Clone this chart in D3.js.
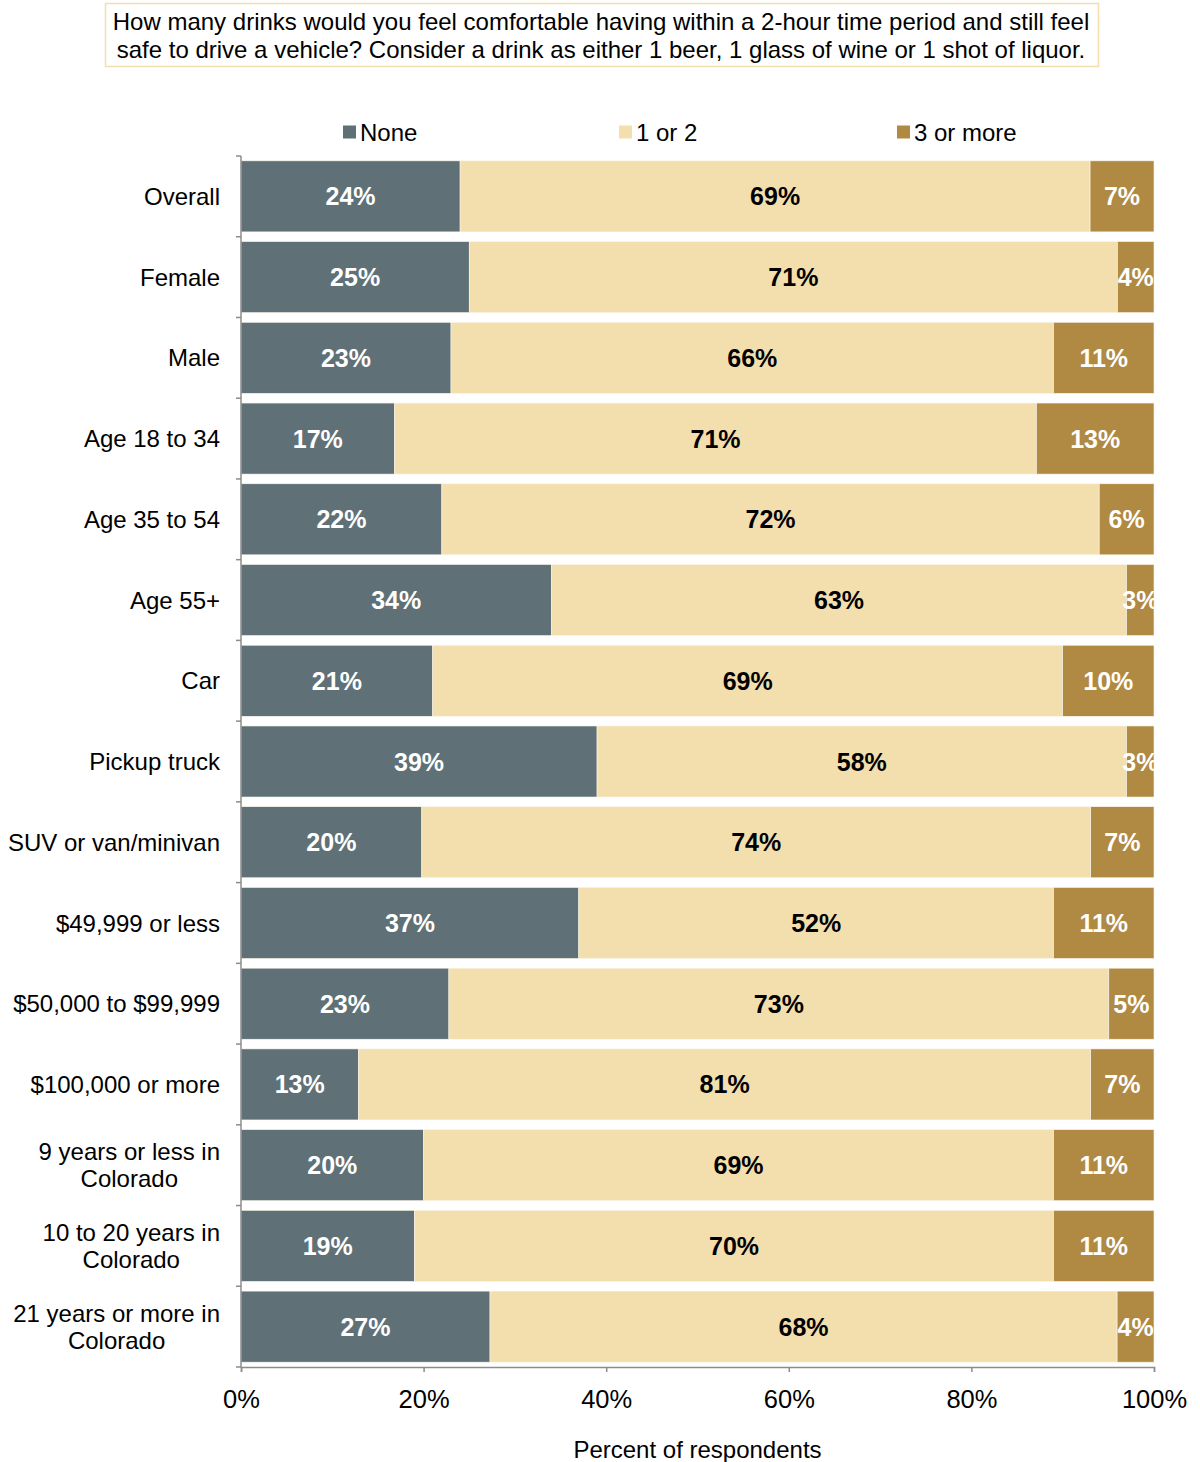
<!DOCTYPE html>
<html>
<head>
<meta charset="utf-8">
<script src="https://cdn.jsdelivr.net/npm/d3@7"></script>
<style>
  html, body { margin: 0; padding: 0; background: #fff; }
  svg { display: block; font-family: "Liberation Sans", Arial, sans-serif; }
</style>
</head>
<body>
<svg id="chart" width="1200" height="1462"></svg>
<script>
// Survey groups (each label may wrap onto two lines)
const categories = [
  ["Overall"],
  ["Female"],
  ["Male"],
  ["Age 18 to 34"],
  ["Age 35 to 54"],
  ["Age 55+"],
  ["Car"],
  ["Pickup truck"],
  ["SUV or van/minivan"],
  ["$49,999 or less"],
  ["$50,000 to $99,999"],
  ["$100,000 or more"],
  ["9 years or less in", "Colorado"],
  ["10 to 20 years in", "Colorado"],
  ["21 years or more in", "Colorado"]
];

const seriesNames = ["None", "1 or 2", "3 or more"];

// Percent of respondents per answer, one value per group
const noneValues  = [24, 25, 23, 17, 22, 34, 21, 39, 20, 37, 23, 13, 20, 19, 27];
const oneTwoValues = [69, 71, 66, 71, 72, 63, 69, 58, 74, 52, 73, 81, 69, 70, 68];
const threeValues = [7, 4, 11, 13, 6, 3, 10, 3, 7, 11, 5, 7, 11, 11, 4];

const tickValues = [0, 0.2, 0.4, 0.6, 0.8, 1.0];

const questionLines = [
  "How many drinks would you feel comfortable having within a 2-hour time period and still feel",
  "safe to drive a vehicle? Consider a drink as either 1 beer, 1 glass of wine or 1 shot of liquor."
];

const colors = { "None": "#5f7177", "1 or 2": "#f3deae", "3 or more": "#b08942" };
const labelColors = { "None": "#ffffff", "1 or 2": "#000000", "3 or more": "#ffffff" };

const rows = categories.map((c, i) => ({
  key: c.join(" "),
  lines: c,
  "None": noneValues[i],
  "1 or 2": oneTwoValues[i],
  "3 or more": threeValues[i]
}));

const svg = d3.select("#chart");
const margin = { left: 241, right: 46, top: 156, bottom: 95 };
const W = 1200, H = 1462;

const x = d3.scaleLinear().domain([0, 1]).range([margin.left, W - margin.right]);
const y = d3.scaleBand()
  .domain(rows.map(r => r.key))
  .range([margin.top, H - margin.bottom])
  .paddingInner(0.12)
  .paddingOuter(0.06);

// Each bar is stacked to fill the full 100% width
const stack = d3.stack().keys(seriesNames).offset(d3.stackOffsetExpand);
const stacked = stack(rows);

// Question box
const title = svg.append("g");
title.append("rect")
  .attr("x", 105.5).attr("y", 3.5).attr("width", 993).attr("height", 63)
  .attr("fill", "#fff").attr("stroke", "#f3deae").attr("stroke-width", 1.5);
title.selectAll("text").data(questionLines).join("text")
  .attr("x", 601).attr("y", (d, i) => 30 + i * 28)
  .attr("text-anchor", "middle")
  .attr("font-size", 24).attr("fill", "#000")
  .text(d => d);

// Legend
const legendX = [343, 619, 897];
const legend = svg.append("g").selectAll("g").data(seriesNames).join("g")
  .attr("transform", (d, i) => `translate(${legendX[i]},132)`);
legend.append("rect").attr("x", 0).attr("y", -6.5).attr("width", 13).attr("height", 13)
  .attr("fill", d => colors[d]);
legend.append("text").attr("x", 17).attr("y", 8.5)
  .attr("font-size", 24).attr("fill", "#000").text(d => d);

// Clip labels at the plot's right edge
svg.append("defs").append("clipPath").attr("id", "plotClip")
  .append("rect").attr("x", margin.left).attr("y", margin.top)
  .attr("width", x(1) - margin.left).attr("height", H - margin.bottom - margin.top);

const plot = svg.append("g");
const layers = plot.selectAll("g.layer").data(stacked).join("g")
  .attr("class", "layer").attr("fill", d => colors[d.key]);

layers.selectAll("rect").data(d => d).join("rect")
  .attr("x", d => x(d[0]))
  .attr("y", d => y(d.data.key))
  .attr("width", d => x(d[1]) - x(d[0]))
  .attr("height", y.bandwidth())
  .attr("stroke", "#fbf6ea").attr("stroke-width", 0.6);

const labels = svg.append("g").attr("clip-path", "url(#plotClip)");
stacked.forEach(layer => {
  labels.selectAll(null).data(layer).join("text")
    .attr("x", d => (x(d[0]) + x(d[1])) / 2)
    .attr("y", d => y(d.data.key) + y.bandwidth() / 2)
    .attr("dy", "0.36em")
    .attr("text-anchor", "middle")
    .attr("font-size", 25).attr("font-weight", "bold")
    .attr("fill", labelColors[layer.key])
    .text(d => d.data[layer.key] + "%");
});

// Y axis: line plus ticks at band boundaries
const axisColor = "#8c8c8c";
const yAxis = svg.append("g");
yAxis.append("line")
  .attr("x1", margin.left).attr("x2", margin.left)
  .attr("y1", margin.top).attr("y2", H - margin.bottom)
  .attr("stroke", axisColor).attr("stroke-width", 1.5);
const bounds = rows.map(r => y(r.key) - y.step() * y.paddingInner() / 2);
bounds.push(H - margin.bottom);
bounds[0] = margin.top;
yAxis.selectAll("line.tick").data(bounds).join("line").attr("class", "tick")
  .attr("x1", margin.left - 5).attr("x2", margin.left)
  .attr("y1", d => d).attr("y2", d => d)
  .attr("stroke", axisColor).attr("stroke-width", 1.5);

// Category labels, right aligned, multi-line blocks centered on themselves
const catG = svg.append("g");
rows.forEach(r => {
  const cy = y(r.key) + y.bandwidth() / 2;
  const t = catG.append("text").attr("font-size", 24).attr("fill", "#000");
  const n = r.lines.length;
  r.lines.forEach((ln, i) => {
    t.append("tspan").text(ln)
      .attr("y", cy + (i - (n - 1) / 2) * 27)
      .attr("dy", "0.36em");
  });
  const spans = t.selectAll("tspan").nodes();
  const maxW = d3.max(spans, s => s.getComputedTextLength());
  const centerX = 220 - maxW / 2;
  t.selectAll("tspan").attr("x", centerX).attr("text-anchor", "middle");
});

// X axis
const xAxis = svg.append("g")
  .attr("transform", `translate(0,${H - margin.bottom})`)
  .call(d3.axisBottom(x).tickValues(tickValues).tickFormat(d3.format(".0%")).tickSize(5).tickPadding(18));
xAxis.select(".domain").attr("stroke", axisColor).attr("stroke-width", 1.5);
xAxis.selectAll(".tick line").attr("stroke", axisColor).attr("stroke-width", 1.5);
xAxis.selectAll(".tick text").attr("font-size", 25.5).attr("fill", "#000")
  .attr("font-family", "'Liberation Sans', Arial, sans-serif");

svg.append("text")
  .attr("x", x(0.5)).attr("y", 1458)
  .attr("text-anchor", "middle").attr("font-size", 24).attr("fill", "#000")
  .text("Percent of respondents");
</script>
</body>
</html>
